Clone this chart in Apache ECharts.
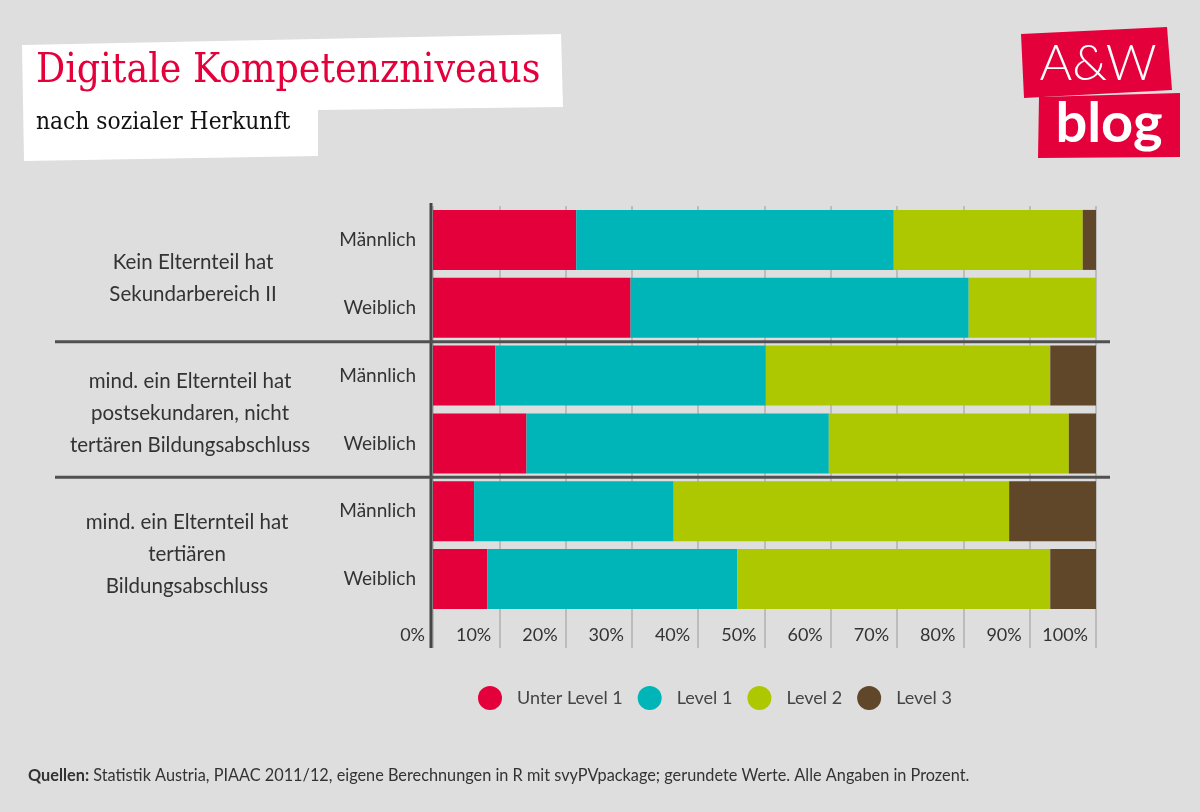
<!DOCTYPE html>
<html><head><meta charset="utf-8">
<script src="https://cdn.jsdelivr.net/npm/echarts@6/dist/echarts.min.js"></script>
<style>html,body{margin:0;padding:0;background:#dedede}#c{width:1200px;height:812px}</style>
</head><body><div id="c"></div>
<script>
// ---- data ----
const groups = [
  'Kein Elternteil hat\nSekundarbereich II',
  'mind. ein Elternteil hat\npostsekundaren, nicht\ntertären Bildungsabschluss',
  'mind. ein Elternteil hat\ntertiären\nBildungsabschluss'
];
const categories = ['Männlich', 'Weiblich', 'Männlich', 'Weiblich', 'Männlich', 'Weiblich'];
const seriesNames = ['Unter Level 1', 'Level 1', 'Level 2', 'Level 3'];
const unterLevel1 = [21.6, 29.8, 9.4, 14.1, 6.2, 8.2];
const level1 = [47.9, 51.0, 40.8, 45.6, 30.1, 37.7];
const level2 = [28.5, 19.2, 42.9, 36.2, 50.6, 47.2];
const level3 = [2.0, 0, 6.9, 4.1, 13.1, 6.9];
const tickSuffix = '%';

const colors = ['#e4003b', '#00b5b8', '#adc700', '#60472a'];
const values = [unterLevel1, level1, level2, level3];
const FONT = 'Lato';

const chart = echarts.init(document.getElementById('c'), null, {renderer: 'canvas'});
const option = {
  backgroundColor: '#dedede',
  animation: false,
  grid: {left: 433, right: 104, top: 206, height: 407},
  xAxis: {
    type: 'value', min: 0, max: 100, interval: 10,
    axisLine: {show: false},
    axisTick: {show: true, length: 35, lineStyle: {color: '#bcbcbc', width: 2}},
    splitLine: {show: true, lineStyle: {color: '#bcbcbc', width: 2}},
    axisLabel: {
      formatter: v => v + tickSuffix, align: 'right', padding: [0, 8, 0, 0],
      margin: 13, color: '#333', fontSize: 18, fontFamily: FONT
    }
  },
  yAxis: {
    type: 'category', data: categories, inverse: true,
    axisLine: {show: false}, axisTick: {show: false},
    axisLabel: {margin: 17, color: '#333', fontSize: 19, fontFamily: FONT}
  },
  legend: {
    left: 478, top: 686, padding: 0, icon: 'circle', itemWidth: 24, itemHeight: 24, itemGap: 15,
    data: seriesNames,
    textStyle: {color: '#444', fontSize: 18, fontFamily: FONT, padding: [0, 0, 0, 10]}
  },
  series: seriesNames.map((n, i) => ({
    name: n, type: 'bar', stack: 'total', barWidth: 60,
    itemStyle: {color: colors[i]}, data: values[i]
  }))
};
chart.setOption(option);

// decorations based on axis pixels
const x0 = chart.convertToPixel({xAxisIndex: 0}, 0);
const x100 = chart.convertToPixel({xAxisIndex: 0}, 100);
const py = i => chart.convertToPixel({yAxisIndex: 0}, i);
const band = py(1) - py(0);
const gTop = py(0) - band / 2, gBot = py(5) + band / 2;
const sep1 = (py(1) + py(2)) / 2, sep2 = (py(3) + py(4)) / 2;
const groupX = [193, 190, 187];
const groupDy = [5, 4, 9];

const graphics = [
  // title boxes
  {type: 'polygon', z: 10, shape: {points: [[22, 45], [561, 34], [563, 107], [318, 110], [318, 156], [24, 161]]}, style: {fill: '#ffffff'}},
  {type: 'text', z: 11, style: {text: 'Digitale Kompetenzniveaus', x: 36, y: 71, fill: '#e4003b', fontSize: 40.5, fontFamily: 'DejaVu Serif Condensed', verticalAlign: 'middle'}},
  {type: 'text', z: 11, style: {text: 'nach sozialer Herkunft', x: 36, y: 123, fill: '#111', fontSize: 24.3, fontFamily: 'DejaVu Serif Condensed', verticalAlign: 'middle'}},
  // logo
  {type: 'polygon', z: 10, shape: {points: [[1021, 34], [1167, 27], [1172, 90], [1024, 98]]}, style: {fill: '#e4003b'}},
  {type: 'polygon', z: 10, shape: {points: [[1039, 97], [1180, 93], [1180, 157], [1038, 158]]}, style: {fill: '#e4003b'}},
  {type: 'text', z: 11, style: {text: 'A&W', x: 1098, y: 64, fill: '#fff', fontSize: 50, fontFamily: 'Lato', fontWeight: 300, align: 'center', verticalAlign: 'middle'}},
  {type: 'text', z: 11, style: {text: 'blog', x: 1109, y: 124, fill: '#fff', fontSize: 56, fontFamily: 'Lato', fontWeight: 'bold', align: 'center', verticalAlign: 'middle'}},
  // y axis line
  {type: 'line', z: 20, shape: {x1: x0 - 2, y1: gTop - 3, x2: x0 - 2, y2: gBot + 35}, style: {stroke: '#454545', lineWidth: 3}},
  // group separators
  {type: 'line', z: 20, shape: {x1: 55, y1: sep1, x2: x100 + 14, y2: sep1}, style: {stroke: '#505050', lineWidth: 3}},
  {type: 'line', z: 20, shape: {x1: 55, y1: sep2, x2: x100 + 14, y2: sep2}, style: {stroke: '#505050', lineWidth: 3}},
  // footer
  {type: 'text', z: 11, style: {
    text: '{b|Quellen:} Statistik Austria, PIAAC 2011/12, eigene Berechnungen in R mit svyPVpackage; gerundete Werte. Alle Angaben in Prozent.',
    x: 28, y: 776, fill: '#333', fontSize: 16.3, fontFamily: 'Lato', verticalAlign: 'middle',
    rich: {b: {fontWeight: 'bold', fontSize: 16.3, fontFamily: 'Lato', fill: '#333'}}
  }}
];
// group labels (centered on each pair of bars)
groups.forEach((g, k) => {
  const yc = (py(2 * k) + py(2 * k + 1)) / 2 + groupDy[k];
  graphics.push({type: 'text', z: 11, style: {
    text: g, x: groupX[k], y: yc, fill: '#333', fontSize: 20.5, lineHeight: 32, fontFamily: FONT,
    align: 'center', verticalAlign: 'middle'
  }});
});
chart.setOption({graphic: graphics});
</script>
</body></html>
